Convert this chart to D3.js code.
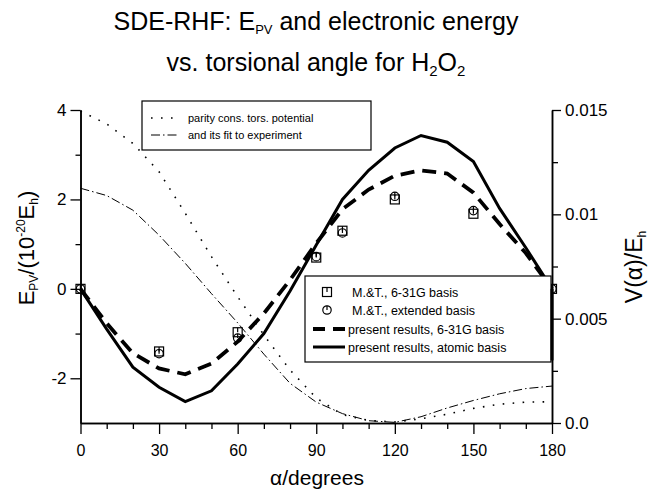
<!DOCTYPE html>
<html>
<head>
<meta charset="utf-8">
<script src="https://cdn.jsdelivr.net/npm/d3@7"></script>
<style>
  body { margin: 0; background: #fff; }
  svg { font-family: 'Liberation Sans', Arial, Helvetica, sans-serif; }
</style>
</head>
<body>
<script>
// torsional angle (degrees)
var angles = [0, 10, 20, 30, 40, 50, 60, 70, 80, 90, 100, 110, 120, 130, 140, 150, 160, 170, 180]

// E_PV in 10^-20 Eh, present results
var atomicBasis = [0, -0.9, -1.75, -2.2, -2.52, -2.28, -1.68, -1.0, -0.05, 0.98, 2.0, 2.65, 3.15, 3.43, 3.28, 2.85, 1.8, 0.92, 0]
var basis631G = [0, -0.77, -1.44, -1.78, -1.91, -1.67, -1.18, -0.55, 0.2, 1.02, 1.78, 2.22, 2.53, 2.65, 2.58, 2.15, 1.45, 0.8, 0]
// trailing drop at 180 drawn by the solid curve
var atomicTail = [[180, 0], [180, -1.6]]

// M.&T. points
var mtAngles = [0, 30, 60, 90, 100, 120, 150, 180]
var mt631G = [0, -1.4, -0.97, 0.7, 1.3, 2.0, 1.68, 0]
var mtExtended = [0, -1.45, -1.1, 0.72, 1.25, 2.07, 1.75, 0]

// V(alpha)/Eh, right axis
var parityPotential = [0.01495, 0.01433, 0.0134, 0.01204, 0.01005, 0.00797, 0.00605, 0.00422, 0.00254, 0.0012, 0.0004, 0.00012, 0.00005, 0.0002, 0.00042, 0.0007, 0.0009, 0.001, 0.00102]
var fitToExperiment = [0.01125, 0.0109, 0.0102, 0.009, 0.00765, 0.0062, 0.0048, 0.0033, 0.0019, 0.001, 0.00045, 0.00011, 0.00003, 0.0003, 0.00072, 0.00108, 0.0014, 0.00165, 0.00177]

var xMajor = [0, 30, 60, 90, 120, 150, 180]
var xMinor = [10, 20, 40, 50, 70, 80, 100, 110, 130, 140, 160, 170]
var yLeftMajor = [-2, 0, 2, 4]
var yLeftMinor = [-1, 1, 3]
var yRightMajor = [0, 0.005, 0.01, 0.015]
var yRightLabels = ['0.0', '0.005', '0.01', '0.015']
var yRightMinor = [0.0025, 0.0075, 0.0125]

var width = 652
var height = 489

var svg = d3.select('body').append('svg')
  .attr('width', width)
  .attr('height', height)

var x = d3.scaleLinear().domain([0, 180]).range([80.5, 552])
var yL = d3.scaleLinear().domain([-3, 4]).range([423, 110])
var yR = d3.scaleLinear().domain([0, 0.015]).range([423, 110])

function pairs (xs, ys) {
  return xs.map(function (a, i) { return [a, ys[i]] })
}

var lineL = d3.line().x(function (d) { return x(d[0]) }).y(function (d) { return yL(d[1]) })
var lineR = d3.line().x(function (d) { return x(d[0]) }).y(function (d) { return yR(d[1]) })

// title
var title = svg.append('text')
  .attr('x', 316).attr('y', 30)
  .attr('text-anchor', 'middle')
  .style('font-size', '25px')
title.append('tspan').text('SDE-RHF: E')
title.append('tspan').attr('dy', 4).style('font-size', '13px').text('PV')
title.append('tspan').attr('dy', -4).text(' and electronic energy')

var title2 = svg.append('text')
  .attr('x', 316).attr('y', 71)
  .attr('text-anchor', 'middle')
  .style('font-size', '25px')
title2.append('tspan').text('vs. torsional angle for H')
title2.append('tspan').attr('dy', 5).style('font-size', '15px').text('2')
title2.append('tspan').attr('dy', -5).text('O')
title2.append('tspan').attr('dy', 5).style('font-size', '15px').text('2')

// axes
function styleAxis (g) {
  g.select('.domain').attr('stroke-width', 1.5)
  g.selectAll('.tick line').attr('stroke-width', 1.3)
  g.selectAll('.tick text').style('font-size', '17px').attr('fill', '#000')
}

svg.append('g')
  .attr('transform', 'translate(0,423)')
  .call(d3.axisBottom(x).tickValues(xMajor).tickSize(11).tickSizeOuter(0).tickFormat(function (d) { return String(d) }))
  .call(styleAxis)
  .call(function (g) { g.selectAll('.tick text').attr('y', 22).style('font-size', '16px') })
svg.append('g')
  .attr('transform', 'translate(0,423)')
  .call(d3.axisBottom(x).tickValues(xMinor).tickSize(6).tickSizeOuter(0).tickFormat(''))
  .call(styleAxis)

svg.append('g')
  .attr('transform', 'translate(80.5,0)')
  .call(d3.axisLeft(yL).tickValues(yLeftMajor).tickSize(10).tickSizeOuter(0).tickFormat(function (d) { return String(d) }))
  .call(styleAxis)
  .call(function (g) { g.selectAll('.tick text').attr('x', -14) })
svg.append('g')
  .attr('transform', 'translate(80.5,0)')
  .call(d3.axisLeft(yL).tickValues(yLeftMinor).tickSize(5).tickSizeOuter(0).tickFormat(''))
  .call(styleAxis)

svg.append('g')
  .attr('transform', 'translate(552,0)')
  .call(d3.axisRight(yR).tickValues(yRightMajor).tickSize(9).tickSizeOuter(0)
    .tickFormat(function (d, i) { return yRightLabels[i] }))
  .call(styleAxis)
  .call(function (g) { g.selectAll('.tick text').attr('x', 13) })
svg.append('g')
  .attr('transform', 'translate(552,0)')
  .call(d3.axisRight(yR).tickValues(yRightMinor).tickSize(6).tickSizeOuter(0).tickFormat(''))
  .call(styleAxis)

// axis labels
var yLab = svg.append('text')
  .attr('transform', 'translate(34,248) rotate(-90)')
  .attr('text-anchor', 'middle')
  .style('font-size', '22px')
yLab.append('tspan').text('E')
yLab.append('tspan').attr('dy', 4).style('font-size', '12px').text('PV')
yLab.append('tspan').attr('dy', -4).text('/(10')
yLab.append('tspan').attr('dy', -9).style('font-size', '12px').text('-20')
yLab.append('tspan').attr('dy', 9).text('E')
yLab.append('tspan').attr('dy', 4).style('font-size', '12px').text('h')
yLab.append('tspan').attr('dy', -4).text(')')

var yRLab = svg.append('text')
  .attr('transform', 'translate(642,267) rotate(-90)')
  .attr('text-anchor', 'middle')
  .style('font-size', '23px')
yRLab.append('tspan').text('V(α)/E')
yRLab.append('tspan').attr('dy', 4).style('font-size', '12px').text('h')

svg.append('text')
  .attr('x', 317).attr('y', 485)
  .attr('text-anchor', 'middle')
  .style('font-size', '21px')
  .text('α/degrees')

// curves on right axis
svg.append('path')
  .attr('d', lineR(pairs(angles, parityPotential)))
  .attr('fill', 'none').attr('stroke', '#000')
  .attr('stroke-width', 1.6).attr('stroke-dasharray', '1.6,8.4')

svg.append('path')
  .attr('d', lineR(pairs(angles, fitToExperiment)))
  .attr('fill', 'none').attr('stroke', '#000')
  .attr('stroke-width', 1).attr('stroke-dasharray', '9,3,1.5,3')

// curves on left axis
svg.append('path')
  .attr('d', lineL(pairs(angles, basis631G)))
  .attr('fill', 'none').attr('stroke', '#000')
  .attr('stroke-width', 3.8).attr('stroke-dasharray', '14,8')

svg.append('path')
  .attr('d', lineL(pairs(angles, atomicBasis)))
  .attr('fill', 'none').attr('stroke', '#000')
  .attr('stroke-width', 3)

// markers
function squareMark (g, cx, cy) {
  g.append('rect').attr('x', cx - 4.5).attr('y', cy - 4.5).attr('width', 9).attr('height', 9)
    .attr('fill', 'none').attr('stroke', '#000').attr('stroke-width', 1.2)
  g.append('line').attr('x1', cx).attr('x2', cx).attr('y1', cy - 4.5).attr('y2', cy)
    .attr('stroke', '#000').attr('stroke-width', 1.2)
}
function circleMark (g, cx, cy) {
  g.append('circle').attr('cx', cx).attr('cy', cy).attr('r', 4.2)
    .attr('fill', 'none').attr('stroke', '#000').attr('stroke-width', 1.2)
  g.append('line').attr('x1', cx).attr('x2', cx).attr('y1', cy - 4.2).attr('y2', cy)
    .attr('stroke', '#000').attr('stroke-width', 1.2)
}

var marks = svg.append('g')
mtAngles.forEach(function (a, i) {
  squareMark(marks, x(a), yL(mt631G[i]))
  circleMark(marks, x(a), yL(mtExtended[i]))
})

// upper legend
var leg1 = svg.append('g')
leg1.append('rect').attr('x', 142).attr('y', 101).attr('width', 229).attr('height', 49)
  .attr('fill', '#fff').attr('stroke', '#000').attr('stroke-width', 1.2)
leg1.append('line').attr('x1', 151).attr('x2', 178).attr('y1', 118).attr('y2', 118)
  .attr('stroke', '#000').attr('stroke-width', 1.6).attr('stroke-dasharray', '1.6,8.4')
leg1.append('line').attr('x1', 151).attr('x2', 178).attr('y1', 135).attr('y2', 135)
  .attr('stroke', '#000').attr('stroke-width', 1).attr('stroke-dasharray', '9,3,1.5,3')
leg1.append('text').attr('x', 188).attr('y', 122).style('font-size', '11px').text('parity cons. tors. potential')
leg1.append('text').attr('x', 188).attr('y', 139).style('font-size', '11px').text('and its fit to experiment')

// lower legend
var leg2 = svg.append('g')
leg2.append('rect').attr('x', 305).attr('y', 276).attr('width', 246).attr('height', 86)
  .attr('fill', '#fff').attr('stroke', '#000').attr('stroke-width', 1.2)
squareMark(leg2, 327, 292)
circleMark(leg2, 327, 310)
leg2.append('line').attr('x1', 313).attr('x2', 345).attr('y1', 329).attr('y2', 329)
  .attr('stroke', '#000').attr('stroke-width', 3.8).attr('stroke-dasharray', '12,8')
leg2.append('line').attr('x1', 313).attr('x2', 345).attr('y1', 347).attr('y2', 347)
  .attr('stroke', '#000').attr('stroke-width', 3)
var leg2Labels = ['M.&T., 6-31G basis', 'M.&T., extended basis', 'present results, 6-31G basis', 'present results, atomic basis']
var leg2Y = [292, 310, 329, 347]
leg2.selectAll('text.lab').data(leg2Labels).enter().append('text')
  .attr('class', 'lab')
  .attr('x', function (d, i) { return i < 2 ? 352 : 348 })
  .attr('y', function (d, i) { return leg2Y[i] + 4.5 })
  .style('font-size', '12.5px')
  .text(function (d) { return d })

// solid tail at 180, drawn over the legend border
svg.append('path')
  .attr('d', lineL(atomicTail))
  .attr('fill', 'none').attr('stroke', '#000')
  .attr('stroke-width', 3)
</script>
</body>
</html>
